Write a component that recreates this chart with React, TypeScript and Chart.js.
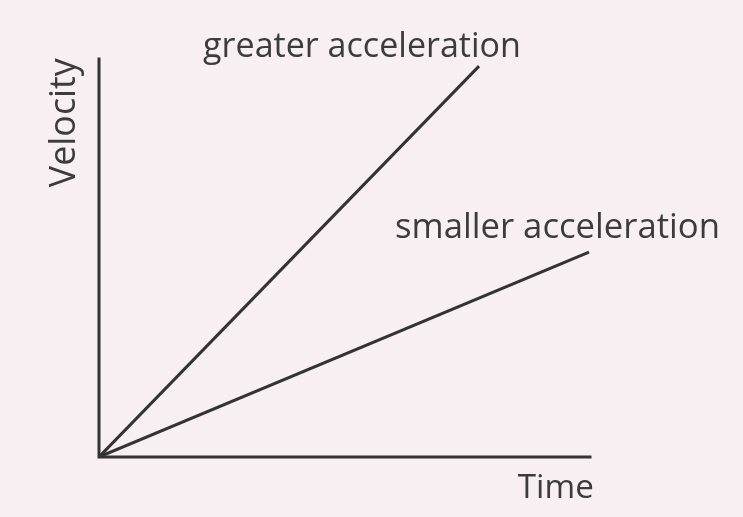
import React, { useEffect, useRef } from "react";
import { Chart, registerables } from "chart.js";

Chart.register(...registerables);

const seriesNames = ["greater acceleration", "smaller acceleration"];
const greaterX = [0, 7.74];
const greaterY = [0, 9.82];
const smallerX = [0, 9.98];
const smallerY = [0, 5.15];
const axisTitles = { x: "Time", y: "Velocity" };
// label anchors in data units: [x, y] for text start/baseline
const greaterLabelAt = [2.12, 10.05];
const smallerLabelAt = [6.03, 5.5];
const timeLabelAt = [8.53, -1.03];
const velocityLabelAt = [-0.49, 6.78];

const BG = "#f7eff2";
const INK = "#333333";
const TEXT = "#3c3c3c";
const FONT = '"Open Sans", "Noto Sans", sans-serif';

function fitFont(ctx: CanvasRenderingContext2D, text: string, width: number) {
  ctx.font = `400 40px ${FONT}`;
  const w = ctx.measureText(text).width;
  return (40 * width) / w;
}

const overlay = {
  id: "overlay",
  beforeDraw(chart: any) {
    const ctx = chart.ctx;
    ctx.save();
    ctx.fillStyle = BG;
    ctx.fillRect(0, 0, chart.width, chart.height);
    ctx.restore();
  },
  beforeDatasetsDraw(chart: any) {
    const { ctx, chartArea } = chart;
    ctx.save();
    ctx.strokeStyle = INK;
    ctx.lineWidth = 3;
    ctx.lineCap = "square";
    ctx.beginPath();
    ctx.moveTo(chartArea.left, chartArea.top);
    ctx.lineTo(chartArea.left, chartArea.bottom);
    ctx.lineTo(chartArea.right, chartArea.bottom);
    ctx.stroke();
    ctx.restore();
  },
  afterDraw(chart: any) {
    const { ctx } = chart;
    const xs = chart.scales.x;
    const ys = chart.scales.y;
    const px = (v: number) => xs.getPixelForValue(v);
    const py = (v: number) => ys.getPixelForValue(v);
    ctx.save();
    ctx.fillStyle = TEXT;
    ctx.textBaseline = "alphabetic";
    ctx.textAlign = "left";
    const draw = (text: string, at: number[], width: number) => {
      const size = fitFont(ctx, text, width);
      ctx.font = `400 ${size}px ${FONT}`;
      ctx.fillText(text, px(at[0]), py(at[1]));
    };
    draw(seriesNames[0], greaterLabelAt, 318);
    draw(seriesNames[1], smallerLabelAt, 325);
    draw(axisTitles.x, timeLabelAt, 76);
    const size = fitFont(ctx, axisTitles.y, 129);
    ctx.font = `400 ${size}px ${FONT}`;
    ctx.translate(px(velocityLabelAt[0]), py(velocityLabelAt[1]));
    ctx.rotate(-Math.PI / 2);
    ctx.fillText(axisTitles.y, 0, 0);
    ctx.restore();
  },
};

export default function App() {
  const ref = useRef<HTMLCanvasElement | null>(null);
  useEffect(() => {
    if (!ref.current) return;
    const chart = new Chart(ref.current, {
      type: "scatter",
      data: {
        datasets: [
          {
            label: seriesNames[0],
            data: greaterX.map((x, i) => ({ x, y: greaterY[i] })),
            showLine: true,
            borderColor: INK,
            borderWidth: 3,
            pointRadius: 0,
          },
          {
            label: seriesNames[1],
            data: smallerX.map((x, i) => ({ x, y: smallerY[i] })),
            showLine: true,
            borderColor: INK,
            borderWidth: 3,
            pointRadius: 0,
          },
        ],
      },
      options: {
        responsive: false,
        animation: false,
        layout: { padding: { left: 99, right: 153, top: 59, bottom: 60 } },
        plugins: { legend: { display: false }, tooltip: { enabled: false } },
        scales: {
          x: { type: "linear", min: 0, max: 10, display: false },
          y: { type: "linear", min: 0, max: 10, display: false },
        },
      },
      plugins: [overlay],
    });
    return () => chart.destroy();
  }, []);
  return (
    <div style={{ position: "fixed", left: 0, top: 0, width: 743, height: 517, background: BG }}>
      <canvas ref={ref} width={743} height={517} style={{ display: "block" }} />
    </div>
  );
}
